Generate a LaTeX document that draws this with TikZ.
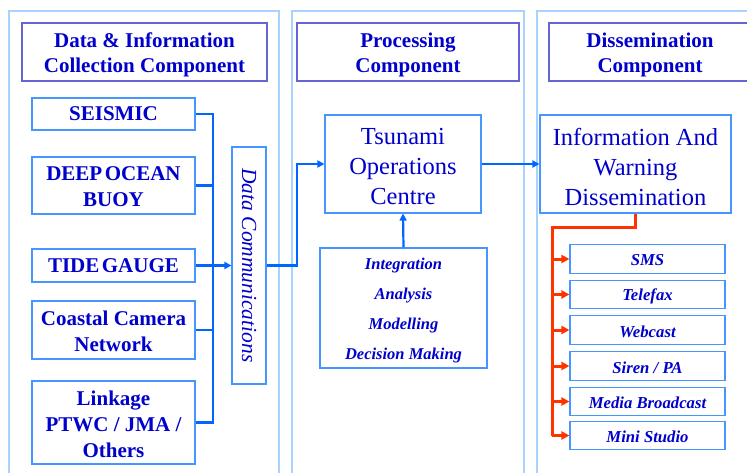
\documentclass[tikz,border=0pt]{standalone}
\usepackage{fontspec}
\setmainfont{Liberation Serif}
\usetikzlibrary{arrows.meta}
\definecolor{txt}{RGB}{0,0,204}
\definecolor{panelc}{RGB}{170,210,255}
\definecolor{hdrc}{RGB}{100,100,210}
\definecolor{boxc}{RGB}{70,150,255}
\definecolor{arrc}{RGB}{0,102,255}
\definecolor{warnc}{RGB}{255,51,0}
\tikzset{
  panelline/.style={draw=panelc,line width=1.6pt},
  hdrframe/.style={draw=hdrc,line width=1.1pt,inner sep=0pt,minimum height=58pt},
  boxframe/.style={draw=boxc,line width=1.1pt,inner sep=0pt},
  hdrtext/.style={text=txt,align=center,inner sep=0pt,yshift=-3pt,
    font=\bfseries\fontsize{21}{25}\selectfont},
  srcbox/.style={draw=boxc,line width=1.1pt,text=txt,align=center,inner sep=0pt,
    font=\bfseries\fontsize{21}{26}\selectfont,minimum width=163pt},
  srctext/.style={text=txt,align=center,inner sep=0pt,yshift=-1.5pt,
    font=\bfseries\fontsize{21}{26}\selectfont},
  bigtext/.style={text=txt,align=center,inner sep=0pt,yshift=-3pt,
    font=\fontsize{24.5}{30}\selectfont},
  proctext/.style={text=txt,align=center,inner sep=0pt,yshift=-3pt,
    font=\bfseries\itshape\fontsize{16.5}{30}\selectfont},
  subbox/.style={draw=boxc,line width=1.1pt,inner sep=0pt,minimum width=155pt,minimum height=28.5pt},
  subtext/.style={text=txt,inner sep=0pt,yshift=-1.5pt,
    font=\bfseries\itshape\fontsize{16.7}{20}\selectfont},
  bus/.style={draw=arrc,line width=2.2pt},
  busarrow/.style={draw=arrc,line width=2.2pt,-{Triangle[length=7pt,width=7pt]}},
  warnline/.style={draw=warnc,line width=3pt},
  warnarrow/.style={draw=warnc,line width=3pt,-{Triangle[length=8pt,width=8pt]}}
}
\begin{document}
\begin{tikzpicture}[x=1pt,y=-1pt]
\useasboundingbox (0,0) rectangle (747,473);
\fill[white] (0,0) rectangle (747,473);
\clip (0,0) rectangle (747,473);
% panels
\draw[panelline] (9,11) rectangle (279,490);
\draw[panelline] (292,11) rectangle (524,490);
\draw[panelline] (537,11) rectangle (765,490);
% headers
\node[hdrframe,minimum width=245pt] (h1) at (144.5,52) {};
\node[hdrtext] (h1t) at (h1.center) {Data \& Information\\Collection Component};
\node[hdrframe,minimum width=222pt] (h2) at (408,52) {};
\node[hdrtext] (h2t) at (h2.center) {Processing\\Component};
\node[hdrframe,minimum width=202pt] (h3) at (650,52) {};
\node[hdrtext] (h3t) at (h3.center) {Dissemination\\Component};
% sources
\node[srcbox,minimum height=32pt] (seis) at (113.5,114) {SEISMIC};
\node[boxframe,minimum width=163pt,minimum height=57pt] (deep) at (113.5,185.5) {};
\node[srctext] (deept) at (deep.center) {DEEP\hspace{0.12em}OCEAN\\BUOY};
\node[srcbox,minimum height=33pt] (tide) at (113.5,265.5) {TIDE\hspace{0.12em}GAUGE};
\node[boxframe,minimum width=163pt,minimum height=58pt] (coast) at (113.5,330) {};
\node[srctext] (coastt) at (coast.center) {Coastal Camera\\Network};
\node[boxframe,minimum width=163pt,minimum height=83pt] (link) at (113.5,422.5) {};
\node[srctext] (linkt) at (link.center) {Linkage\\PTWC / JMA /\\Others};
% data communications
\node[boxframe,minimum width=34pt,minimum height=237pt] (dc) at (249,265.5) {};
\node[rotate=-90,text=txt,inner sep=0pt,font=\itshape\fontsize{21.5}{24}\selectfont] (dclabel) at (dc.center) {Data Communications};
% processing
\node[boxframe,minimum width=156pt,minimum height=98pt] (tsu) at (403,164) {};
\node[bigtext] (tsut) at (tsu.center) {Tsunami\\Operations\\Centre};
\node[boxframe,minimum width=167pt,minimum height=120pt] (proc) at (403.5,308) {};
\node[proctext] (proct) at (proc.center) {Integration\\Analysis\\Modelling\\Decision Making};
% dissemination
\node[boxframe,minimum width=191pt,minimum height=98pt] (info) at (635.5,164) {};
\node[bigtext] (infot) at (info.center) {Information And\\Warning\\Dissemination};
\node[subbox] (sms) at (647.5,259) {};
\node[subtext] (smst) at (sms.center) {SMS};
\node[subbox] (fax) at (647.5,294.5) {};
\node[subtext] (faxt) at (fax.center) {Telefax};
\node[subbox] (web) at (647.5,330) {};
\node[subtext] (webt) at (web.center) {Webcast};
\node[subbox] (siren) at (647.5,366) {};
\node[subtext] (sirent) at (siren.center) {Siren / PA};
\node[subbox] (media) at (647.5,401.5) {};
\node[subtext] (mediat) at (media.center) {Media Broadcast};
\node[subbox] (mini) at (647.5,435.5) {};
\node[subtext] (minit) at (mini.center) {Mini Studio};
% bus
\coordinate (bx) at (213,265.5);
\draw[bus] (seis.east) -| (bx |- link.east) -- (link.east);
\draw[bus] (deep.east) -- (deep.east -| bx);
\draw[bus] (coast.east) -- (coast.east -| bx);
\draw[busarrow] (tide.east) -- (dc.west |- tide.east);
\coordinate (jx) at (297,265.5);
\draw[busarrow] (dc.east) -- (jx) |- (tsu.west);
\draw[busarrow] (tsu.east) -- (info.west);
\draw[busarrow] (proc.north) -- (tsu.south);
% red distribution
\coordinate (rt) at (552,228);
\coordinate (rb) at (552,435.5);
\draw[warnline] (info.south) |- (rt) -- (rb);
\foreach \n in {sms,fax,web,siren,media,mini}{
  \draw[warnarrow] (\n.west -| rt) -- (\n.west);
}
\end{tikzpicture}
\end{document}
